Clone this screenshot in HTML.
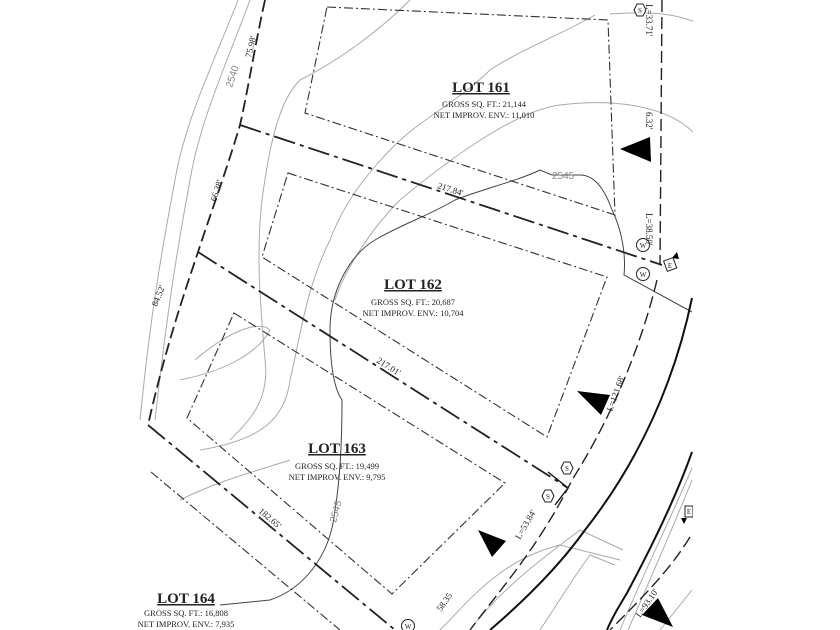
<!DOCTYPE html>
<html><head><meta charset="utf-8"><style>
html,body{margin:0;padding:0;background:#fff;}
svg{display:block;}
text{font-family:"Liberation Serif",serif;fill:#222;}
.g{fill:none;stroke:#aaa;stroke-width:1;}
.gd{fill:none;stroke:#444;stroke-width:1;}
.env{fill:none;stroke:#333;stroke-width:1.1;stroke-dasharray:9 3 2 3;}
.lot{fill:none;stroke:#222;stroke-width:1.8;stroke-dasharray:22 5 4 5;}
.fr{fill:none;stroke:#222;stroke-width:1.4;stroke-dasharray:12 5;}
.sol{fill:none;stroke:#111;stroke-width:2;}
.h{font-size:15px;font-weight:bold;text-anchor:middle;text-decoration:underline;}
.s{font-size:8.5px;text-anchor:middle;}
.d{font-size:9px;}
.gt{font-family:"Liberation Sans",sans-serif;font-size:10px;fill:#888;}
</style></head><body>
<svg width="840" height="630" viewBox="0 0 840 630" xmlns="http://www.w3.org/2000/svg">
<defs><clipPath id="c"><rect x="0" y="0" width="693" height="630"/></clipPath></defs>
<rect width="840" height="630" fill="#fff"/>
<g clip-path="url(#c)">
<path class="g" d="M238,0 C215,60 185,120 175,180 C160,260 150,320 140,420"/>
<path class="g" d="M250,0 C228,60 200,120 190,180 C175,260 165,330 155,420"/>
<path class="g" d="M410,0 C380,30 340,60 300,80 C280,100 270,140 262,200 C255,260 262,320 265,360 C270,400 250,420 230,440"/>
<path class="g" d="M595,15 C560,35 520,50 490,70 C460,100 420,120 395,145 C370,170 345,200 330,240 C305,290 300,340 290,380 C285,420 260,440 200,450"/>
<path class="g" d="M710,30 C680,10 640,12 610,14"/>
<path class="g" d="M700,140 C670,100 600,100 560,105 C520,110 460,150 400,200 C370,230 345,270 335,300"/>
<path class="gd" d="M612,210 C605,190 595,175 580,175 L552,175 L540,170 C520,180 480,190 455,200 C430,215 400,225 375,240 C350,255 330,290 330,330 C330,370 335,390 342,400 C342,440 340,480 335,510 C330,560 300,590 270,600 L220,605"/>
<path class="gd" d="M612,210 C622,230 626,255 624,275 L692,312"/>
<path class="g" d="M195,360 C230,330 260,320 270,330 C260,350 230,370 180,380"/>
<path class="g" d="M180,500 C220,480 260,470 290,460"/>
<path class="g" d="M440,630 C470,600 500,560 560,545 L620,560"/>
<path class="g" d="M470,630 C500,590 540,560 580,530 L623,550"/>
<path class="g" d="M540,630 C560,600 575,575 590,555 L615,565"/>
<path class="g" d="M692,468 C670,520 645,570 620,630"/>
<path class="g" d="M692,480 C672,530 650,580 628,630"/>
<path class="g" d="M692,590 L660,630"/>
<path class="fr" style="stroke-width:1.8" d="M265,0 C255,45 248,90 240,125 C225,175 210,215 198,252 C182,300 165,350 148,425"/>
<path class="lot" d="M240,125 L662,265"/>
<path class="lot" d="M198,252 L568,488"/>
<path class="lot" d="M148,425 L395,630"/>
<path class="sol" style="stroke-width:1.4" d="M548,472 L568,488 L555,505"/>
<path class="env" d="M327,7 L608,20 L615,215 L305,113 Z"/>
<path class="env" d="M288,173 L607,277 L547,437 L262,257 Z"/>
<path class="env" d="M234,313 L505,483 L392,594 L187,418 Z"/>
<path class="env" d="M151,472 L340,630"/>
<path class="fr" d="M662,0 L660,265"/>
<path class="fr" d="M657,280 C640,350 610,420 572,480 C540,545 500,590 470,630"/>
<path class="fr" d="M690,537 C670,570 640,600 610,630"/>
<path class="sol" d="M692,298 C675,380 640,460 585,530 C560,565 525,600 490,630"/>
<path class="sol" d="M692,452 C675,500 650,550 627,593 C618,608 612,618 607,630"/>
<polygon points="620,149 650,137 651,162" fill="#000"/>
<polygon points="577,391 610,395 601,415" fill="#000"/>
<polygon points="478,530 506,541 492,557" fill="#000"/>
<polygon points="642,615 658,598 673,627" fill="#000"/>
<g fill="#fff" stroke="#222" stroke-width="1">
<polygon points="634,10 637,4 643,4 646,10 643,16 637,16"/>
<polygon points="561,468 564,462 570,462 573,468 570,474 564,474"/>
<polygon points="542,496 545,490 551,490 554,496 551,502 545,502"/>
<circle cx="643" cy="245" r="6.5"/><circle cx="643" cy="274" r="6.5"/>
<circle cx="408" cy="626" r="6.5"/>
<rect x="665" y="259" width="10" height="11" transform="rotate(-20 670 264)"/>
<rect x="685" y="506" width="8" height="11"/>
</g>
<g font-family="Liberation Serif" font-size="7" text-anchor="middle">
<text x="640" y="13">S</text><text x="567" y="471">S</text><text x="548" y="499">S</text>
<text x="643" y="248">W</text><text x="643" y="277">W</text><text x="408" y="629">W</text>
<text x="670" y="268">E</text><text x="689" y="514">E</text>
</g>
<polygon points="672,258 677,252 679,259" fill="#000"/>
<polygon points="681,518 687,518 684,524" fill="#000"/>
<text class="d" transform="translate(640,618) rotate(-55)">L=93.10'</text>
</g>
<text class="h" x="481" y="92">LOT 161</text>
<text class="s" x="484" y="107">GROSS SQ. FT.: 21,144</text>
<text class="s" x="484" y="118">NET IMPROV. ENV.: 11,010</text>
<text class="h" x="413" y="289">LOT 162</text>
<text class="s" x="413" y="305">GROSS SQ. FT.: 20,687</text>
<text class="s" x="413" y="316">NET IMPROV. ENV.: 10,704</text>
<text class="h" x="337" y="453">LOT 163</text>
<text class="s" x="337" y="469">GROSS SQ. FT.: 19,499</text>
<text class="s" x="337" y="480">NET IMPROV. ENV.: 9,795</text>
<text class="h" x="186" y="603">LOT 164</text>
<text class="s" x="186" y="616">GROSS SQ. FT.: 16,808</text>
<text class="s" x="186" y="627">NET IMPROV. ENV.: 7,935</text>
<text class="gt" transform="translate(232,88) rotate(-72)">2540</text>
<text class="gt" x="552" y="179">2545</text>
<text class="gt" transform="translate(336,523) rotate(-75)">2545</text>
<text class="d" transform="translate(251,58) rotate(-76)">75.98'</text>
<text class="d" transform="translate(216,202) rotate(-72)">66.38'</text>
<text class="d" transform="translate(157,307) rotate(-68)">84.52'</text>
<text class="d" transform="translate(437,188) rotate(18)">217.84'</text>
<text class="d" transform="translate(376,362) rotate(32)">217.01'</text>
<text class="d" transform="translate(258,512) rotate(40)">182.65'</text>
<text class="d" transform="translate(441,612) rotate(-55)">58.35</text>
<text class="d" transform="translate(520,540) rotate(-60)">L=53.84'</text>
<text class="d" transform="translate(612,412) rotate(-70)">L=121.68'</text>
<text class="d" transform="translate(646,213) rotate(90)">L=38.50'</text>
<text class="d" transform="translate(646,4) rotate(90)">L=33.71'</text>
<text class="d" transform="translate(646,112) rotate(90)">6.32'</text>
</svg>
</body></html>
